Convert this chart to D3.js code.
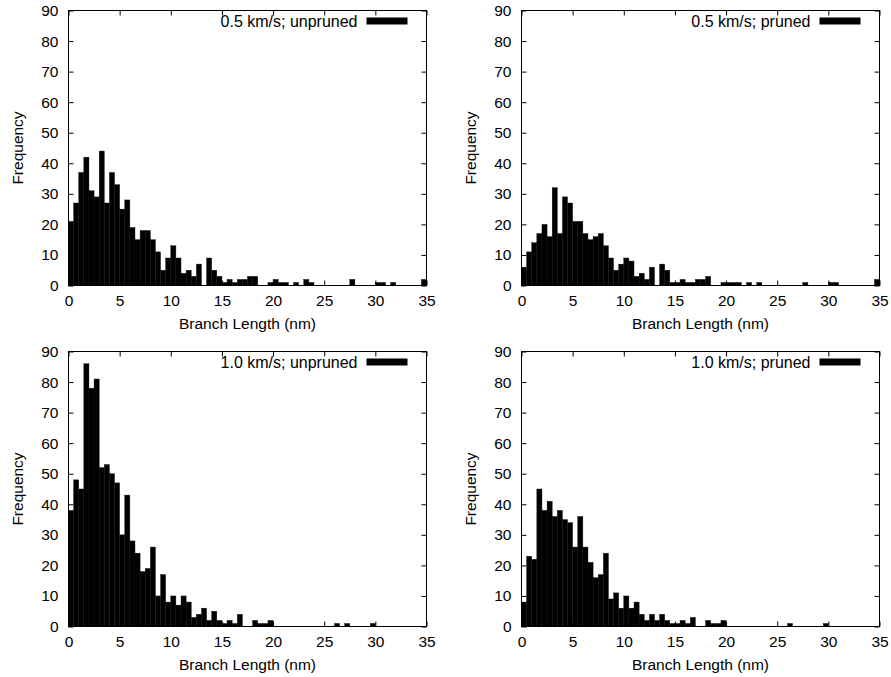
<!DOCTYPE html>
<html>
<head>
<meta charset="utf-8">
<script src="https://cdn.jsdelivr.net/npm/d3@7"></script>
<style>
  html, body { margin: 0; padding: 0; background: #fff; }
  svg { display: block; }
  text { font-family: "Liberation Sans", Arial, Helvetica, sans-serif; fill: #000; }
</style>
</head>
<body>
<svg id="chart" width="891" height="677"></svg>
<script>
// Branch-length histograms, 0.5 nm bins from 0 to 35 nm
const binWidth = 0.5;

const counts05Unpruned = [
  21,27,37,42,31,29,44,27,37,33,25,28,19,15,18,18,15,11,5,9,13,9,4,5,
  3,7,0,9,5,3,1,2,1,2,2,3,3,0,0,1,2,1,1,0,1,0,2,1,
  0,0,0,0,0,0,0,2,0,0,0,0,1,1,0,1,0,0,0,0,0,2
];
const counts05Pruned = [
  6,11,14,17,20,16,32,17,29,27,21,21,17,15,16,17,13,9,5,7,9,8,3,4,
  2,6,0,7,5,1,1,2,1,1,2,2,3,0,0,1,1,1,1,0,1,0,1,0,
  0,0,0,0,0,0,0,1,0,0,0,0,1,1,0,0,0,0,0,0,0,2
];
const counts10Unpruned = [
  38,48,45,86,78,81,52,53,50,47,30,43,28,24,18,19,26,10,17,8,10,7,10,8,
  3,4,6,2,5,2,1,2,1,4,0,0,2,1,1,2,0,0,0,0,0,0,0,0,
  0,0,0,0,1,0,1,0,0,0,0,1,0,0,0,0,0,0,0,0,0,0
];
const counts10Pruned = [
  8,23,22,45,38,41,36,38,35,34,26,36,26,21,16,17,24,9,11,6,10,6,8,4,
  2,4,2,4,2,1,1,2,1,3,0,0,2,1,1,2,0,0,0,0,0,0,0,0,
  0,0,0,0,1,0,0,0,0,0,0,1,0,0,0,0,0,0,0,0,0,0
];

const panelTitles = ["0.5 km/s; unpruned", "0.5 km/s; pruned", "1.0 km/s; unpruned", "1.0 km/s; pruned"];
const panelCounts = [counts05Unpruned, counts05Pruned, counts10Unpruned, counts10Pruned];

const xTicks = [0, 5, 10, 15, 20, 25, 30, 35];
const yTicks = [0, 10, 20, 30, 40, 50, 60, 70, 80, 90];
const xDomain = [0, 35];
const yDomain = [0, 90];
const xTitle = "Branch Length (nm)";
const yTitle = "Frequency";

const svg = d3.select("#chart");
const fontSize = 15.5;
const keyFontSize = 16;

// plot-area frames for the 2x2 grid
const frames = [
  { left: 68.5, right: 426.5, top: 10.5, bottom: 285.5 },
  { left: 521.5, right: 879.5, top: 10.5, bottom: 285.5 },
  { left: 68.5, right: 426.5, top: 351.5, bottom: 626.5 },
  { left: 521.5, right: 879.5, top: 351.5, bottom: 626.5 }
];

const tickLen = 5;

frames.forEach((f, i) => {
  const counts = panelCounts[i];
  const x = d3.scaleLinear().domain(xDomain).range([f.left, f.right]);
  const y = d3.scaleLinear().domain(yDomain).range([f.bottom, f.top]);
  const g = svg.append("g");

  // histogram boxes
  g.append("g").selectAll("rect")
    .data(counts.map((c, k) => ({ x0: k * binWidth, x1: (k + 1) * binWidth, c })).filter(d => d.c > 0))
    .join("rect")
    .attr("x", d => x(d.x0))
    .attr("width", d => x(d.x1) - x(d.x0))
    .attr("y", d => y(d.c))
    .attr("height", d => y(0) - y(d.c))
    .attr("fill", "#000")
    .attr("stroke", "#111")
    .attr("stroke-width", 0.4);

  // bottom axis with inward ticks
  const bottomAxis = d3.axisBottom(x).tickValues(xTicks).tickFormat(d3.format("d"))
    .tickSizeInner(-tickLen).tickSizeOuter(0).tickPadding(9);
  const gb = g.append("g").attr("transform", `translate(0,${f.bottom})`).call(bottomAxis);
  gb.select(".domain").remove();
  gb.selectAll("text").attr("font-size", fontSize).attr("font-family", "Liberation Sans, Arial, sans-serif").attr("fill", "#000");
  gb.selectAll("line").attr("stroke", "#000");

  // top mirror ticks
  const topAxis = d3.axisTop(x).tickValues(xTicks).tickFormat("").tickSizeInner(-tickLen).tickSizeOuter(0);
  const gt = g.append("g").attr("transform", `translate(0,${f.top})`).call(topAxis);
  gt.select(".domain").remove();
  gt.selectAll("line").attr("stroke", "#000");

  // left axis with inward ticks
  const leftAxis = d3.axisLeft(y).tickValues(yTicks).tickFormat(d3.format("d"))
    .tickSizeInner(-tickLen).tickSizeOuter(0).tickPadding(10);
  const gl = g.append("g").attr("transform", `translate(${f.left},0)`).call(leftAxis);
  gl.select(".domain").remove();
  gl.selectAll("text").attr("font-size", fontSize).attr("font-family", "Liberation Sans, Arial, sans-serif").attr("fill", "#000");
  gl.selectAll("line").attr("stroke", "#000");

  // right mirror ticks
  const rightAxis = d3.axisRight(y).tickValues(yTicks).tickFormat("").tickSizeInner(-tickLen).tickSizeOuter(0);
  const gr = g.append("g").attr("transform", `translate(${f.right},0)`).call(rightAxis);
  gr.select(".domain").remove();
  gr.selectAll("line").attr("stroke", "#000");

  // frame
  g.append("rect")
    .attr("x", f.left).attr("y", f.top)
    .attr("width", f.right - f.left).attr("height", f.bottom - f.top)
    .attr("fill", "none").attr("stroke", "#000").attr("stroke-width", 1);

  // axis titles
  g.append("text")
    .attr("x", (f.left + f.right) / 2)
    .attr("y", f.bottom + 43)
    .attr("text-anchor", "middle")
    .attr("font-size", fontSize)
    .text(xTitle);

  g.append("text")
    .attr("transform", `translate(${f.left - 46},${(f.top + f.bottom) / 2}) rotate(-90)`)
    .attr("text-anchor", "middle")
    .attr("font-size", fontSize)
    .text(yTitle);

  // key: label and sample box
  const keyRight = f.right - 19;
  g.append("rect")
    .attr("x", keyRight - 41).attr("y", f.top + 7)
    .attr("width", 41).attr("height", 7)
    .attr("fill", "#000");
  g.append("text")
    .attr("x", keyRight - 50)
    .attr("y", f.top + 16)
    .attr("text-anchor", "end")
    .attr("font-size", keyFontSize)
    .text(panelTitles[i]);
});
</script>
</body>
</html>
